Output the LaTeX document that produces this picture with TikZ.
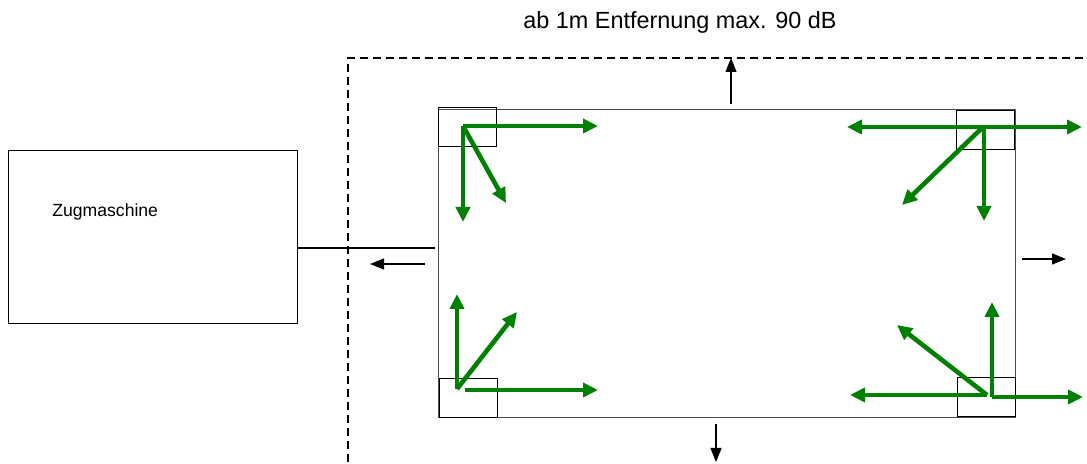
\documentclass[tikz,border=0pt]{standalone}
\usepackage{fontspec}
\setmainfont{Liberation Sans}
\usepackage{tikz}
\usetikzlibrary{arrows.meta,positioning}

\definecolor{schallgruen}{RGB}{0,128,0}

\begin{document}
\begin{tikzpicture}[
  x=0.5pt, y=-0.5pt,
  box/.style={rectangle, draw, line width=0.6pt, inner sep=0pt, anchor=north west},
  ecke/.style={rectangle, draw, line width=0.45pt, inner sep=0pt, anchor=north west, minimum width=29pt, minimum height=19.5pt},
  schall/.style={-{Triangle[length=7.5pt,width=7pt]}, line width=2.3pt, schallgruen},
  fahrt/.style={-{Triangle[length=7pt,width=5.5pt]}, line width=0.6pt},
  grenze/.style={line width=1pt, dash pattern=on 4pt off 2.5pt}
]
\useasboundingbox (0,0) rectangle (1087,464);

\node[font=\fontsize{11.7}{14}\selectfont] (titel) at (680,22) {ab 1m Entfernung max. 90 dB};

\node[box, minimum width=144.5pt, minimum height=86.5pt] (zug) at (8,150) {};
\node[anchor=west, inner sep=0pt, font=\fontsize{8.8}{10}\selectfont] (zugtext) at (52,212) {Zugmaschine};

\node[box, draw=black!70, minimum width=288.5pt, minimum height=154pt] (anh) at (438,109) {};
\node[ecke] (ol) at (438,107) {};
\node[ecke] (or) at (956,110) {};
\node[ecke] (ul) at (439,378) {};
\node[ecke] (ur) at (957,377) {};

% Abstandsgrenze
\draw[grenze] (348,462) -- (348,58) -- (1087,58);

% Deichsel
\coordinate (deichsel) at (435,248);
\draw[line width=0.6pt] (zug.east |- deichsel) -- (deichsel);

% Fahrtrichtungen
\draw[fahrt] (731,104) -- (731,58);
\draw[fahrt] (716,424) -- (716,462);
\draw[fahrt] (1022,259) -- (1066,259);
\draw[fahrt] (425,264) -- (370,264);

% Schallquellen
\coordinate (qol) at (463,126);
\draw[schall] (qol) -- (598,126);
\draw[schall] (qol) -- (463,222);
\draw[schall] (qol) -- (506,203);

\coordinate (qor) at (983,127);
\draw[schall] (qor) -- (847,127);
\draw[schall] (qor) -- (1082,127);
\draw[schall] (984,127) -- (984,221);
\draw[schall] (qor) -- (902,205);

\coordinate (qul) at (457,389);
\draw[schall] (qul) -- (457,294);
\draw[schall] (qul) -- (517,312);
\draw[schall] (465,390) -- (598,390);

\coordinate (qur) at (987,395);
\draw[schall] (qur) -- (850,395);
\draw[schall] (qur) -- (897,325);
\draw[schall] (992,397) -- (992,302);
\draw[schall] (992,397) -- (1083,397);
\end{tikzpicture}
\end{document}
